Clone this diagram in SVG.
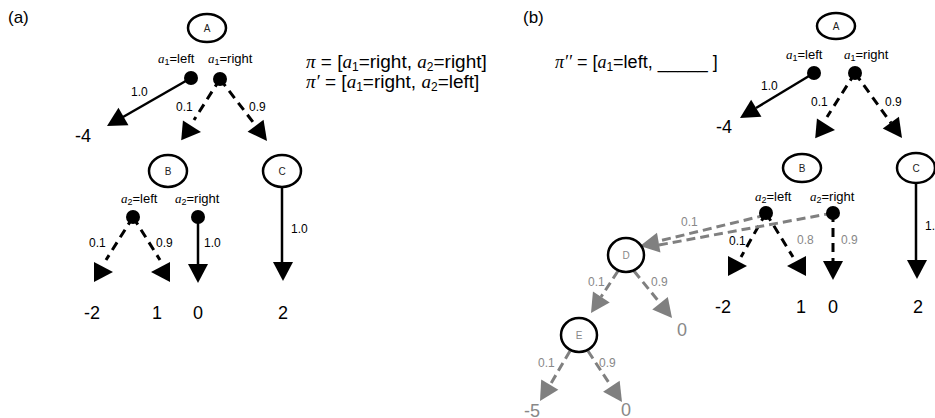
<svg xmlns="http://www.w3.org/2000/svg" xmlns:xlink="http://www.w3.org/1999/xlink" width="935" height="418" viewBox="0 0 935 418">
<style>
text{font-family:"Liberation Sans",Arial,sans-serif;fill:#000}
.m{font-family:"Liberation Serif","Times New Roman",serif;font-style:italic}
.node{fill:#fff;stroke:#000;stroke-width:2.5}
.dot{fill:#000}
.s{stroke:#000;stroke-width:2.5;fill:none}
.d{stroke:#000;stroke-width:3;fill:none;stroke-dasharray:9 6}
.g{stroke:#808080;stroke-width:3;fill:none;stroke-dasharray:9 5}
.ah{fill:#000}
.gah{fill:#808080}
.lbl{font-size:12px}
.act{font-size:13px}
.val{font-size:18px}
.nl{font-size:10px;text-anchor:middle;fill:#222}
.gt{fill:#888}
.big{font-size:17px}
</style>
<defs>
<polygon id="tri" points="0,0 -19,-10 -19,10"/>
</defs>

<text class="big" x="8" y="23">(a)</text>
<text class="big" x="523" y="23">(b)</text>

<text x="306" y="68" font-size="19"><tspan class="m">π</tspan> = [<tspan class="m">a</tspan><tspan font-size="12" dy="3">1</tspan><tspan dy="-3">=right, </tspan><tspan class="m">a</tspan><tspan font-size="12" dy="3">2</tspan><tspan dy="-3">=right]</tspan></text>
<text x="306" y="88" font-size="19"><tspan class="m">π′</tspan> = [<tspan class="m">a</tspan><tspan font-size="12" dy="3">1</tspan><tspan dy="-3">=right, </tspan><tspan class="m">a</tspan><tspan font-size="12" dy="3">2</tspan><tspan dy="-3">=left]</tspan></text>
<text x="555" y="68" font-size="18"><tspan class="m">π′′</tspan> = [<tspan class="m">a</tspan><tspan font-size="12" dy="3">1</tspan><tspan dy="-3">=left, _____ ]</tspan></text>

<g id="connectors">
  <!-- panel a -->
  <line class="s" x1="191" y1="78" x2="123" y2="117"/>
  <use xlink:href="#tri" class="ah" transform="translate(107,126) rotate(150)"/>
  <line class="d" x1="220" y1="79" x2="194" y2="120"/>
  <use xlink:href="#tri" class="ah" transform="translate(201,132) rotate(5)"/>
  <line class="d" x1="220" y1="79" x2="256" y2="126"/>
  <use xlink:href="#tri" class="ah" transform="translate(267,141) rotate(53)"/>
  <line class="d" x1="133" y1="217" x2="106" y2="260"/>
  <use xlink:href="#tri" class="ah" transform="translate(113,272) rotate(0)"/>
  <line class="d" x1="133" y1="217" x2="160" y2="260"/>
  <use xlink:href="#tri" class="ah" transform="translate(151,272) rotate(180)"/>
  <line class="s" x1="198" y1="217" x2="198" y2="265"/>
  <use xlink:href="#tri" class="ah" transform="translate(198,283) rotate(90)"/>
  <line class="s" x1="282" y1="186" x2="282" y2="263"/>
  <use xlink:href="#tri" class="ah" transform="translate(283,281) rotate(90)"/>
  <!-- panel b -->
  <line class="s" x1="814" y1="73" x2="756" y2="108"/>
  <use xlink:href="#tri" class="ah" transform="translate(740,118) rotate(149)"/>
  <line class="d" x1="855" y1="73" x2="827" y2="117"/>
  <use xlink:href="#tri" class="ah" transform="translate(835,130) rotate(5)"/>
  <line class="d" x1="855" y1="73" x2="891" y2="123"/>
  <use xlink:href="#tri" class="ah" transform="translate(902,138) rotate(54)"/>
  <line class="d" x1="766" y1="213" x2="741" y2="257"/>
  <use xlink:href="#tri" class="ah" transform="translate(747,266) rotate(0)"/>
  <line class="d" x1="766" y1="213" x2="793" y2="257"/>
  <use xlink:href="#tri" class="ah" transform="translate(787,266) rotate(180)"/>
  <line class="d" x1="833" y1="213" x2="833" y2="262"/>
  <use xlink:href="#tri" class="ah" transform="translate(833,280) rotate(90)"/>
  <line class="s" x1="916" y1="183" x2="916" y2="261"/>
  <use xlink:href="#tri" class="ah" transform="translate(917,279) rotate(90)"/>
  <!-- grey -->
  <line class="g" x1="766" y1="215" x2="659" y2="241"/>
  <line class="g" x1="833" y1="213" x2="659" y2="245"/>
  <use xlink:href="#tri" class="gah" transform="translate(640,246) rotate(170)"/>
  <line class="g" x1="618" y1="271" x2="601" y2="297"/>
  <use xlink:href="#tri" class="gah" transform="translate(591,313) rotate(123)"/>
  <line class="g" x1="634" y1="271" x2="660" y2="303"/>
  <use xlink:href="#tri" class="gah" transform="translate(672,318) rotate(51)"/>
  <line class="g" x1="570" y1="351" x2="550" y2="385"/>
  <use xlink:href="#tri" class="gah" transform="translate(540,401) rotate(121)"/>
  <line class="g" x1="588" y1="351" x2="611" y2="386"/>
  <use xlink:href="#tri" class="gah" transform="translate(622,402) rotate(56)"/>

  <!-- probability labels -->
  <text class="lbl" x="131" y="96">1.0</text>
  <text class="lbl" x="176" y="111">0.1</text>
  <text class="lbl" x="249" y="111">0.9</text>
  <text class="lbl" x="89" y="247">0.1</text>
  <text class="lbl" x="156" y="247">0.9</text>
  <text class="lbl" x="204" y="247">1.0</text>
  <text class="lbl" x="291" y="233">1.0</text>
  <text class="lbl" x="761" y="90">1.0</text>
  <text class="lbl" x="811" y="106">0.1</text>
  <text class="lbl" x="885" y="106">0.9</text>
  <text class="lbl" x="729" y="245">0.1</text>
  <text class="lbl gt" x="797" y="244">0.8</text>
  <text class="lbl gt" x="841" y="244">0.9</text>
  <text class="lbl" x="925" y="230">1.0</text>
  <text class="lbl gt" x="681" y="226">0.1</text>
  <text class="lbl gt" x="588" y="286">0.1</text>
  <text class="lbl gt" x="651" y="286">0.9</text>
  <text class="lbl gt" x="538" y="367">0.1</text>
  <text class="lbl gt" x="599" y="367">0.9</text>
</g>

<!-- panel a nodes -->
<g id="a-A">
  <ellipse class="node" cx="207" cy="28" rx="19" ry="14"/>
  <text class="nl" x="207" y="32">A</text>
</g>
<g id="a-A-left">
  <circle class="dot" cx="191" cy="78" r="7"/>
  <text class="act" x="158" y="63"><tspan class="m">a</tspan><tspan font-size="9" dy="2">1</tspan><tspan dy="-2">=left</tspan></text>
</g>
<g id="a-A-right">
  <circle class="dot" cx="220" cy="79" r="7"/>
  <text class="act" x="208" y="63"><tspan class="m">a</tspan><tspan font-size="9" dy="2">1</tspan><tspan dy="-2">=right</tspan></text>
</g>
<g id="a-v-4"><text class="val" x="75" y="142">-4</text></g>
<g id="a-B">
  <ellipse class="node" cx="168" cy="171" rx="19" ry="16"/>
  <text class="nl" x="168" y="175">B</text>
</g>
<g id="a-C">
  <ellipse class="node" cx="282" cy="171" rx="19" ry="16"/>
  <text class="nl" x="282" y="175">C</text>
</g>
<g id="a-B-left">
  <circle class="dot" cx="133" cy="217" r="7"/>
  <text class="act" x="121" y="203"><tspan class="m">a</tspan><tspan font-size="9" dy="2">2</tspan><tspan dy="-2">=left</tspan></text>
</g>
<g id="a-B-right">
  <circle class="dot" cx="198" cy="217" r="7"/>
  <text class="act" x="175" y="203"><tspan class="m">a</tspan><tspan font-size="9" dy="2">2</tspan><tspan dy="-2">=right</tspan></text>
</g>
<g id="a-vals">
  <text class="val" x="84" y="319">-2</text>
  <text class="val" x="152" y="319">1</text>
  <text class="val" x="193" y="319">0</text>
  <text class="val" x="278" y="319">2</text>
</g>

<!-- panel b nodes -->
<g id="b-A">
  <ellipse class="node" cx="836" cy="26" rx="19" ry="13"/>
  <text class="nl" x="836" y="30">A</text>
</g>
<g id="b-A-left">
  <circle class="dot" cx="814" cy="73" r="7"/>
  <text class="act" x="786" y="59"><tspan class="m">a</tspan><tspan font-size="9" dy="2">1</tspan><tspan dy="-2">=left</tspan></text>
</g>
<g id="b-A-right">
  <circle class="dot" cx="855" cy="73" r="7"/>
  <text class="act" x="844" y="59"><tspan class="m">a</tspan><tspan font-size="9" dy="2">1</tspan><tspan dy="-2">=right</tspan></text>
</g>
<g id="b-v-4"><text class="val" x="716" y="133">-4</text></g>
<g id="b-B">
  <ellipse class="node" cx="802" cy="168" rx="19" ry="14"/>
  <text class="nl" x="802" y="172">B</text>
</g>
<g id="b-C">
  <ellipse class="node" cx="916" cy="168" rx="19" ry="15"/>
  <text class="nl" x="916" y="172">C</text>
</g>
<g id="b-B-left">
  <circle class="dot" cx="766" cy="213" r="7"/>
  <text class="act" x="755" y="201"><tspan class="m">a</tspan><tspan font-size="9" dy="2">2</tspan><tspan dy="-2">=left</tspan></text>
</g>
<g id="b-B-right">
  <circle class="dot" cx="833" cy="213" r="7"/>
  <text class="act" x="810" y="201"><tspan class="m">a</tspan><tspan font-size="9" dy="2">2</tspan><tspan dy="-2">=right</tspan></text>
</g>
<g id="b-vals">
  <text class="val" x="715" y="313">-2</text>
  <text class="val" x="796" y="313">1</text>
  <text class="val" x="828" y="313">0</text>
  <text class="val" x="913" y="313">2</text>
</g>
<g id="b-D">
  <ellipse class="node" cx="626" cy="255" rx="18" ry="17"/>
  <text class="nl gt" x="626" y="259">D</text>
</g>
<g id="b-D-v0"><text class="val gt" x="677" y="336" font-size="19">0</text></g>
<g id="b-E">
  <ellipse class="node" cx="579" cy="335" rx="18" ry="17"/>
  <text class="nl gt" x="579" y="339" font-size="9">E</text>
</g>
<g id="b-E-vals">
  <text class="val gt" x="524" y="417" font-size="19">-5</text>
  <text class="val gt" x="621" y="416" font-size="19">0</text>
</g>
</svg>
